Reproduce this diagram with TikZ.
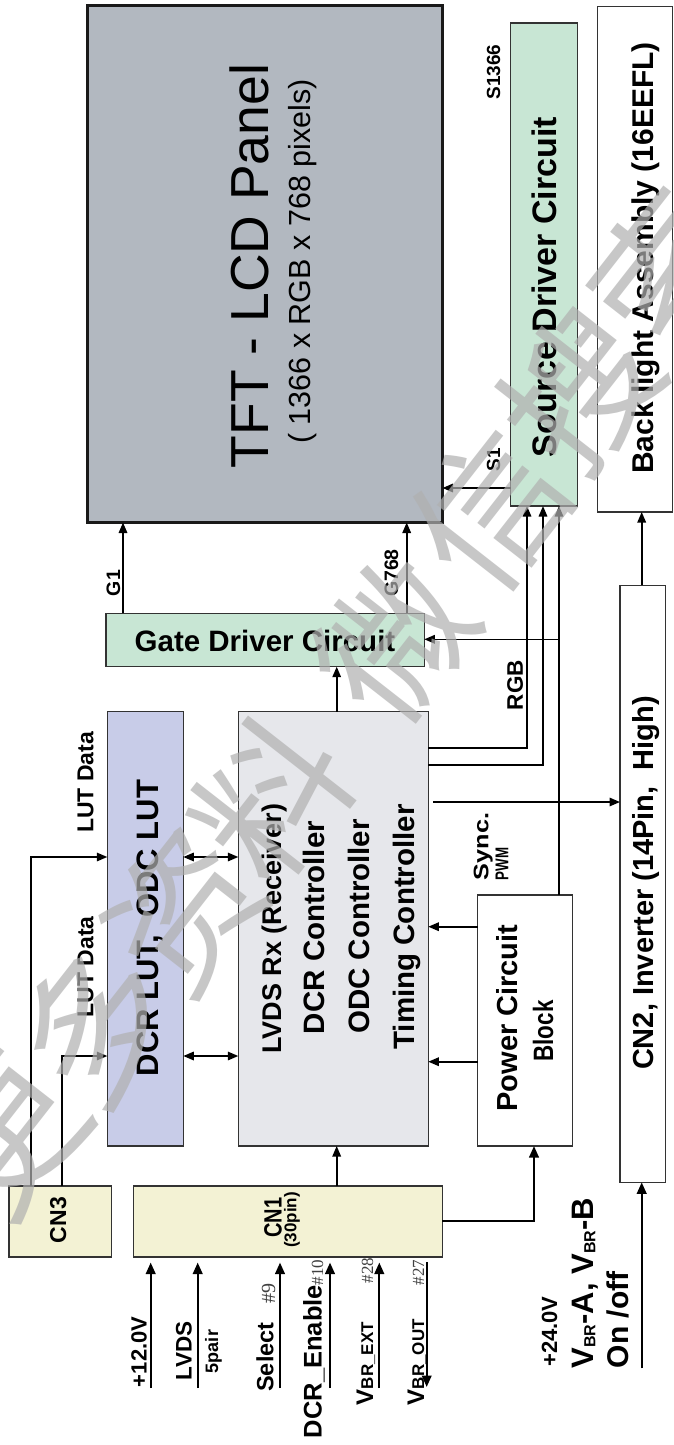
\documentclass[tikz,border=0pt]{standalone}
\usepackage{fontspec}
\setmainfont{Liberation Sans}
\newfontfamily\serifft{Liberation Serif}
\newfontfamily\cjk{Noto Sans CJK SC}
\usetikzlibrary{arrows.meta,calc}
\definecolor{panelc}{HTML}{B2B8C0}
\definecolor{greenc}{HTML}{C8E6D4}
\definecolor{lutc}{HTML}{C8CCE8}
\definecolor{lvdsc}{HTML}{E6E7EB}
\definecolor{cnc}{HTML}{F3F2D4}
\definecolor{edge}{HTML}{333333}
\definecolor{wm}{HTML}{B0B0B0}
\newcommand\fs[1]{\fontsize{#1}{#1}\selectfont}
\begin{document}
\begin{tikzpicture}[x=1pt,y=-1pt,
  blk/.style={draw=edge,line width=1.3pt,inner sep=0pt,outer sep=0pt},
  arr/.style={line width=1.6pt,-{Triangle[length=10.5pt,width=8.5pt]}},
  tarr/.style={line width=2.3pt,-{Triangle[length=11.5pt,width=9.5pt]}},
  darr/.style={line width=1.6pt,{Triangle[length=10.5pt,width=8.5pt]}-{Triangle[length=10.5pt,width=8.5pt]}},
  lbl/.style={inner sep=0pt,outer sep=0pt,font=\bfseries},
  rl/.style={lbl,rotate=90,anchor=base},
  rs/.style={lbl,rotate=90,anchor=base west},
  hs/.style={inner sep=0pt,outer sep=0pt,rotate=90,anchor=base west,text=black!75,font=\serifft},
  wmk/.style={inner sep=0pt,rotate=52,text=wm,opacity=0.7,font=\cjk\fs{150}},
]
\useasboundingbox (0,0) rectangle (673,1445);
\fill[white] (0,0) rectangle (673,1445);

% ---------- blocks ----------
\node[blk,fill=panelc,draw=black!90,line width=3.2pt,minimum width=355pt,minimum height=517pt] (panel) at (265,264) {};
\node[blk,fill=greenc,minimum width=67pt,minimum height=483pt] (src) at (544,264.5) {};
\node[blk,fill=white,minimum width=75pt,minimum height=505.5pt] (bl) at (635,259.25) {};
\node[blk,fill=greenc,minimum width=318.3pt,minimum height=53.4pt] (gate) at (265.15,640) {};
\node[blk,fill=lutc,minimum width=76pt,minimum height=434.3pt] (lut) at (145.3,928.85) {};
\node[blk,fill=lvdsc,minimum width=190pt,minimum height=434.5pt] (lvds) at (333.3,928.75) {};
\node[blk,fill=white,minimum width=95pt,minimum height=251pt] (pw) at (525.2,1020.5) {};
\node[blk,fill=white,minimum width=45.7pt,minimum height=596.9pt] (cn2) at (642.85,883.85) {};
\node[blk,fill=cnc,minimum width=102.7pt,minimum height=71pt] (cn3) at (60.35,1221.5) {};
\node[blk,fill=cnc,minimum width=309pt,minimum height=71pt] (cn1) at (287.8,1221.5) {};

% ---------- connectors ----------
\draw[arr] (gate.north -| 123,0) -- (panel.south -| 123,0);
\draw[arr] (gate.north -| 406.7,0) -- (panel.south -| 406.7,0);
\draw[arr] (src.west |- 0,488) -- (panel.east |- 0,488);
\coordinate (j3) at (559,639.3);
\draw[arr] (j3) -- (gate.east |- j3);
\draw[arr] (lvds.east |- 0,748) -| (src.south -| 527,0);
\draw[arr] (lvds.east |- 0,765) -| (src.south -| 543,0);
\draw[arr] (pw.north -| 559,0) -- (src.south -| 559,0);
\coordinate (sy) at (433,802);
\draw[arr] (sy) -- (cn2.west |- sy);
\draw[arr] (lvds.north -| 336.7,0) -- (gate.south -| 336.7,0);
\draw[arr] (cn1.north -| 336.7,0) -- (lvds.south -| 336.7,0);
\draw[arr] (pw.west |- 0,926.7) -- (lvds.east |- 0,926.7);
\draw[arr] (pw.west |- 0,1061.7) -- (lvds.east |- 0,1061.7);
\draw[tarr] (cn1.east |- 0,1220.7) -| (pw.south -| 534,0);
\draw[arr] (cn2.north -| 641.7,0) -- (bl.south -| 641.7,0);
\coordinate (in24) at (641.7,1368.3);
\draw[tarr] (in24) -- (cn2.south -| in24);
\draw[arr] (cn3.north -| 31,0) |- (lut.west |- 0,857);
\draw[arr] (cn3.north -| 62,0) |- (lut.west |- 0,1056);
\draw[darr] (lut.east |- 0,857) -- (lvds.west |- 0,857);
\draw[darr] (lut.east |- 0,1056) -- (lvds.west |- 0,1056);
\foreach \n/\xx in {a/150.7,b/197.7,c/280,d/330,e/379.3}{
  \coordinate (i\n) at (\xx,1388);
  \draw[tarr] (i\n) -- ($(cn1.south -| i\n)+(0,5.5)$);
}
\coordinate (io) at (426.7,1387);
\draw[tarr] ($(cn1.south -| io)+(0,5)$) -- (io);

% ---------- texts ----------
\node[inner sep=0pt,rotate=90,anchor=base] at (268.3,266) {\fs{53.5}TFT - LCD Panel};
\node[inner sep=0pt,rotate=90,anchor=base] at (310.3,261.6) {\fs{30.5}( 1366 x RGB x 768 pixels)};
\node[rl] at (556.6,287) {\fs{34}Source Driver Circuit};
\node[rl] at (653,258) {\fs{30}Back light Assembly (16EEFL)};
\node[rl] at (500,72) {\fs{19}S1366};
\node[rl] at (500,460) {\fs{19}S1};
\node[lbl,anchor=base] at (265,651.7) {\fs{29.5}Gate Driver Circuit};
\node[rl] at (120,583) {\fs{19.5}G1};
\node[rl] at (398,573) {\fs{19.5}G768};
\node[rl] at (522.8,685) {\fs{22.5}RGB};
\node[rl] at (93.3,782.5) {\fs{23}LUT Data};
\node[rl] at (93.3,966.7) {\fs{23}LUT Data};
\node[rl] at (158,928) {\fs{31}DCR LUT,\ \ ODC LUT};
\node[rl] at (281,928.5) {\fs{27}LVDS Rx (Receiver)};
\node[rl] at (324.5,927.5) {\fs{29.5}DCR Controller};
\node[rl] at (369.5,926.5) {\fs{29.5}ODC Controller};
\node[rl] at (414.5,927) {\fs{29.5}Timing Controller};
\node[rs] at (488.3,880) {\fs{21}\scalebox{1.2}[1]{Sync.}};
\node[rs] at (508.3,880) {\fs{18.5}\scalebox{0.72}[1]{PWM}};
\node[rl] at (517,1018) {\fs{29}Power Circuit};
\node[rl] at (553,1031) {\fs{28}\scalebox{0.8}[1]{Block}};
\node[rl] at (653,883) {\fs{29}CN2, Inverter (14Pin,\ \ High)};
\node[rl] at (66,1220) {\fs{23}CN3};
\node[rl] at (281.7,1217.5) {\fs{25}\scalebox{0.8}[1]{CN1}};
\node[rl] at (296.4,1220) {\fs{17}(30pin)};
% CN1 inputs
\node[rs] at (146.7,1387) {\fs{22}+12.0V};
\node[rs] at (191.7,1380) {\fs{22.5}LVDS};
\node[rs] at (218,1373) {\fs{18}5pair};
\node[rs] at (273.3,1391.7) {\fs{23.5}Select};
\node[hs] at (275,1303) {\fs{20}\#9};
\node[rs] at (321.7,1438) {\fs{25.5}DCR\_Enable};
\node[hs] at (323,1285) {\fs{17}\#10};
\node[rs] at (373,1405) {\fs{24}V\fs{17}BR\_EXT};
\node[hs] at (373,1283) {\fs{17}\#28};
\node[rs] at (424,1405) {\fs{24}V\fs{17}BR\_OUT};
\node[hs] at (424,1285) {\fs{17}\#27};
% CN2 inputs
\node[rs] at (557,1366.7) {\fs{22}+24.0V};
\node[rs] at (593.3,1368.3) {\fs{31}V\raisebox{-2pt}{\fs{16}BR}-A, V\raisebox{-2pt}{\fs{16}BR}-B};
\node[rs] at (628.3,1368) {\fs{30}On /off};

% ---------- watermark ----------
\node[wmk] at (8,1137) {更};
\node[wmk] at (96,1024) {多};
\node[wmk] at (184,911) {资};
\node[wmk] at (272,798) {料};
\node[wmk] at (395,640) {微};
\node[wmk] at (490,510) {信};
\node[wmk] at (580,390) {搜};
\node[wmk] at (668,270) {索};
\end{tikzpicture}
\end{document}
